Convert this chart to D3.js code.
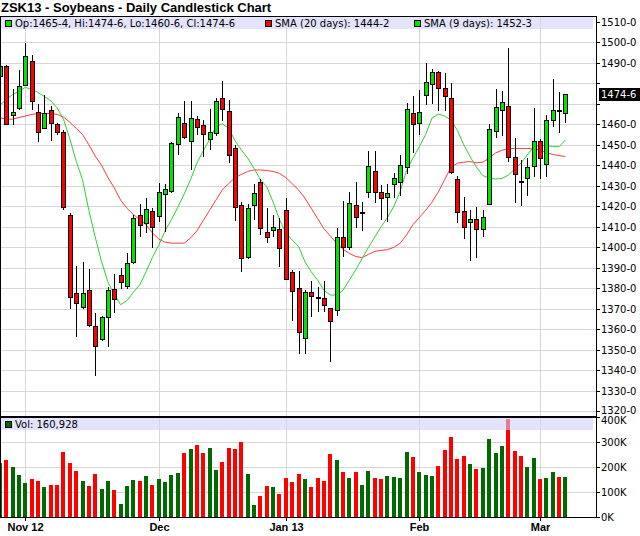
<!DOCTYPE html>
<html><head><meta charset="utf-8">
<script src="https://cdn.jsdelivr.net/npm/d3@7"></script>
<style>body{margin:0;background:#fff}svg{display:block}</style>
</head><body><svg id="c" width="640" height="536"></svg>
<script>
// ---- data (ZSK13, one entry per trading day) ----
const opens  = [1483.5,1488.4,1464.4,1467.8,1479,1490.9,1465.8,1458.3,1467,1460,1456.1,1415.6,1377.9,1371,1379,1361.4,1355.1,1365.8,1379.5,1386.3,1381,1392.8,1415.6,1412,1417.9,1415.3,1426,1427.3,1450.2,1460.8,1451.7,1462.4,1459.5,1452.7,1455.6,1472.7,1466.5,1448.5,1420.6,1395.1,1420.5,1431.7,1407.3,1408.4,1408.8,1418.2,1387.9,1380,1355.6,1378,1375.5,1375.1,1370.2,1369.4,1404.9,1400,1420.6,1417,1426.9,1437.4,1426.9,1424.4,1430.8,1432,1439,1465.3,1460.5,1474.1,1479.5,1485.4,1477.5,1472.7,1433.2,1417.7,1412.2,1413.6,1408.8,1421.2,1456.7,1467,1469.1,1444.2,1432.1,1433.7,1439.7,1452,1440.7,1462.1,1466.8,1465.5];
const highs  = [1490,1489,1477.1,1486.5,1499.8,1494,1469.9,1474.1,1468.9,1460.5,1457,1416.6,1390.9,1392.8,1389.4,1367.8,1366.5,1380.5,1387,1390.1,1397.4,1415.5,1421.3,1424,1419,1431.2,1431,1451.5,1465.4,1471.3,1471.3,1464,1462.1,1467.5,1472.7,1481.1,1471.9,1450,1421.9,1421,1430.9,1433.3,1419,1415.8,1414.1,1424,1389,1388.6,1379.2,1383.6,1380.8,1383.6,1370.5,1409.2,1422.7,1426.9,1431.7,1422.2,1447,1447,1430.4,1430.9,1436.1,1445,1470.6,1473.8,1476.6,1490.1,1487,1486.2,1484.9,1480,1435,1424.6,1418.2,1419.8,1418.2,1460.2,1477.1,1476.3,1497.1,1453.2,1442.6,1443.4,1467.8,1453,1464.5,1482.1,1475.6,1474.75];
const lows   = [1482,1459.5,1459.7,1467,1478.5,1467,1451.1,1457.5,1452,1455,1418.2,1369.7,1356.1,1370,1361.3,1337.4,1354.5,1351.2,1368.1,1379.5,1379.5,1392,1404.9,1407,1399.5,1412.5,1407.6,1426.5,1445,1453,1437.7,1455,1444.2,1447.5,1454.3,1461.8,1440.9,1413,1388.1,1394.5,1413.3,1406,1402.3,1404.9,1390.5,1384,1364.2,1347.8,1347.8,1365.8,1368.6,1368.3,1343.9,1366.6,1395.4,1398.7,1409.2,1408.1,1424,1421.5,1413.3,1412.5,1424,1425,1435.8,1446.2,1454.8,1469.4,1469.9,1466.7,1466.5,1435.8,1412,1403.9,1393.5,1394.9,1405.2,1420.8,1453.5,1454.3,1441.8,1421.5,1420.3,1425.2,1434.1,1433.2,1434.5,1458.9,1455.6,1460.75];
const closes = [1488.4,1460.3,1465.8,1478.7,1493.3,1471.2,1456.4,1465.3,1460.8,1456.1,1419.5,1375.6,1372.7,1377.5,1362.3,1351.7,1365.8,1379,1374.6,1383.1,1392.2,1414.1,1410.7,1418.5,1409.7,1427.1,1428.2,1450.7,1463.7,1453.6,1462.9,1458.8,1455.3,1456.4,1471.5,1467.3,1444.9,1419.5,1394.6,1419,1426.7,1409.2,1404.9,1409.7,1399.5,1384.4,1378.5,1358.5,1378,1376.1,1375.2,1371.7,1363.9,1405.2,1400,1421.5,1414.6,1416.8,1439.7,1426.9,1424,1426.4,1433.7,1440.2,1467.6,1460,1465.8,1480.5,1485.7,1477.5,1473.8,1436.9,1417.4,1409.7,1413.6,1408.8,1414.6,1457.6,1468.6,1470.7,1443.9,1435.6,1432,1439.3,1452,1443.4,1462.1,1466.8,1466.6,1474.75];
const volumesK = [217,229,201,168,137,153,144,121,128,128,261,217,185,145,125,173,113,145,109,53,125,149,145,165,129,153,141,168,177,256,273,289,256,277,189,220,277,273,301,173,49,85,125,121,93,157,141,173,153,122,158,143,254,230,182,158,178,130,186,158,154,166,162,158,262,242,182,170,166,206,270,322,234,246,214,194,198,314,258,286,394,266,246,202,238,154,158,178,162,160.928];
const sma20 = [1463.2,1462.5,1462.5,1463.3,1464,1464.8,1465.2,1465.3,1465.2,1464.8,1463.5,1461,1458,1455,1450,1444.5,1440,1434,1429,1423,1419,1416,1413.5,1411,1407,1404,1402.5,1402,1402,1402,1404.5,1408,1413,1418,1423,1428,1431,1434,1435.5,1437,1437.7,1437.7,1437.4,1437,1436,1434,1431,1428,1424,1419,1414,1409,1405.5,1402,1399,1397,1395.5,1395,1396.5,1398,1398.5,1398.8,1400,1402,1406,1411,1414.5,1418,1422,1427,1433,1439,1441,1441.5,1441.8,1441.2,1441.5,1443.5,1446,1447.3,1448,1448.2,1448.2,1448.2,1448,1447.5,1446.2,1445.3,1444.7,1444.25];
const sma9 = [1469.4,1472,1474.5,1476,1478,1477,1475.5,1473.5,1471.5,1468,1462.5,1453,1442,1433,1418,1405,1393,1383,1377,1372,1374,1378,1381.6,1388,1395,1401,1408,1413.5,1419.5,1426,1433,1441,1447,1452.5,1459,1460.2,1458,1452,1447.5,1443.5,1438.5,1433,1429.6,1422,1413.5,1407,1403.5,1400.5,1393,1388,1384,1379,1376.7,1376.7,1379,1384,1389,1394.5,1400,1405,1410,1414.5,1420,1427.2,1437.5,1443.5,1449,1455,1463,1465,1464,1462,1457,1450,1444.2,1439,1435,1433.7,1433.3,1433.5,1435.2,1438,1441,1445,1449.1,1449.6,1449.7,1449.1,1449,1452.4];
const monthTickIndex = [4,25,45,66,85];
const monthLabels = ["Nov 12","Dec","Jan 13","Feb","Mar"];
const priceTickValues = [1320,1330,1340,1350,1360,1370,1380,1390,1400,1410,1420,1430,1440,1450,1460,1470,1480,1490,1500,1510];
const hiddenPriceLabels = [1470,1480];
const volTickValues = [0,100,200,300,400];
const titleText = "ZSK13 - Soybeans - Daily Candlestick Chart";
const ohlcLegend = "Op:1465-4, Hi:1474-6, Lo:1460-6, Cl:1474-6";
const sma20Legend = "SMA (20 days): 1444-2";
const sma9Legend = "SMA (9 days): 1452-3";
const volLegend = "Vol: 160,928";
const lastPriceLabel = "1474-6";
const lastPrice = 1474.75;

// ---- layout ----
const L = 0, R = 596, PT = 16, PB = 416, VT = 417, VB = 517;
const GREEN = "#00e400", RED = "#ff0000", VGREEN = "#006a00", GRID = "#d6d6d6";
const F = "'DejaVu Sans', sans-serif";

const svg = d3.select("#c");
const n = closes.length;
const x = d3.scaleLinear().domain([0, n - 1]).range([-0.1, 565.4]);
const y = d3.scaleLinear().domain([1317.7, 1512.8]).range([PB, PT]);
const yv = d3.scaleLinear().domain([0, 400]).range([VB, VT]);
const px = i => Math.round(x(i));

// title
svg.append("text").attr("x", 1).attr("y", 11.5).attr("font-family", "'Liberation Sans', Arial, sans-serif")
  .attr("font-weight", "bold").attr("font-size", 13).text(titleText);

// gridlines
const g = svg.append("g").attr("shape-rendering", "crispEdges");
g.selectAll(".hg").data(priceTickValues.filter(v => v < 1510)).enter().append("line")
  .attr("x1", L).attr("x2", R).attr("y1", d => Math.round(y(d)) + 0.5).attr("y2", d => Math.round(y(d)) + 0.5)
  .attr("stroke", GRID);
g.selectAll(".vg").data(volTickValues.filter(v => v > 0 && v < 400)).enter().append("line")
  .attr("x1", L).attr("x2", R).attr("y1", d => Math.round(yv(d)) + 0.5).attr("y2", d => Math.round(yv(d)) + 0.5)
  .attr("stroke", GRID);
g.selectAll(".xg").data(monthTickIndex).enter().append("line")
  .attr("x1", d => px(d) + 0.5).attr("x2", d => px(d) + 0.5).attr("y1", PT).attr("y2", VB)
  .attr("stroke", GRID);

// SMA lines
const line = d3.line().x((d, i) => x(i)).y(d => y(d));
svg.append("path").attr("d", line(sma20)).attr("fill", "none").attr("stroke", "#ff3a3a").attr("stroke-width", 1);
svg.append("path").attr("d", line(sma9)).attr("fill", "none").attr("stroke", "#2ed12e").attr("stroke-width", 1);

// candles
const idx = d3.range(n);
const cg = svg.append("g").attr("shape-rendering", "crispEdges");
cg.selectAll(".wick").data(idx).enter().append("line")
  .attr("x1", i => px(i) + 0.5).attr("x2", i => px(i) + 0.5)
  .attr("y1", i => Math.round(y(highs[i]))).attr("y2", i => Math.round(y(lows[i])))
  .attr("stroke", "#000").attr("stroke-width", 1);
cg.selectAll(".body").data(idx).enter().append("rect")
  .attr("x", i => px(i) - 1.5).attr("width", 4)
  .attr("y", i => Math.round(y(Math.max(opens[i], closes[i]))) + 0.5)
  .attr("height", i => Math.max(1, Math.round(y(Math.min(opens[i], closes[i]))) - Math.round(y(Math.max(opens[i], closes[i])))))
  .attr("fill", i => closes[i] >= opens[i] ? GREEN : RED)
  .attr("stroke", "#000").attr("stroke-width", 1);

// volume bars
svg.append("g").attr("shape-rendering", "crispEdges").selectAll("rect").data(idx).enter().append("rect")
  .attr("x", i => px(i) - 2).attr("width", 4)
  .attr("y", i => Math.round(yv(volumesK[i]))).attr("height", i => VB - Math.round(yv(volumesK[i])))
  .attr("fill", i => (i === 0 || closes[i] >= closes[i - 1]) ? VGREEN : RED);

// legend bands
svg.append("rect").attr("x", 1).attr("y", PT + 1).attr("width", R - 4).attr("height", 12)
  .attr("fill", "#d0d0f8").attr("opacity", 0.6);
svg.append("rect").attr("x", 1).attr("y", 418).attr("width", R - 4).attr("height", 12)
  .attr("fill", "#d0d0f8").attr("opacity", 0.6);

function legendItem(xs, yb, color, text) {
  svg.append("rect").attr("x", xs + 0.5).attr("y", yb - 6.5).attr("width", 6).attr("height", 6)
    .attr("fill", color).attr("stroke", "#000").attr("shape-rendering", "crispEdges");
  svg.append("text").attr("x", xs + 10).attr("y", yb).attr("font-family", F).attr("font-size", 10)
    .attr("fill", "#000").text(text);
}
legendItem(5, 27, GREEN, ohlcLegend);
legendItem(265, 27, RED, sma20Legend);
legendItem(414, 27, GREEN, sma9Legend);
legendItem(5, 428, VGREEN, volLegend);

// frame
const fr = svg.append("g").attr("shape-rendering", "crispEdges").attr("stroke", "#000");
fr.append("line").attr("x1", 0).attr("x2", R).attr("y1", PT + 0.5).attr("y2", PT + 0.5);
fr.append("line").attr("x1", 0.5).attr("x2", 0.5).attr("y1", PT).attr("y2", VB);
fr.append("line").attr("x1", R + 0.5).attr("x2", R + 0.5).attr("y1", PT).attr("y2", VB + 1);
fr.append("line").attr("x1", 0).attr("x2", R + 1).attr("y1", PB + 0.5).attr("y2", PB + 0.5).attr("stroke-width", 2);
fr.append("line").attr("x1", 0).attr("x2", R + 1).attr("y1", VB + 0.5).attr("y2", VB + 0.5);

// right price axis
const ax = svg.append("g");
ax.selectAll(".pt").data(priceTickValues).enter().append("line").attr("shape-rendering", "crispEdges")
  .attr("x1", R).attr("x2", R + 4).attr("y1", d => Math.round(y(d)) + 0.5).attr("y2", d => Math.round(y(d)) + 0.5)
  .attr("stroke", "#000");
ax.selectAll(".pl").data(priceTickValues.filter(v => !hiddenPriceLabels.includes(v))).enter().append("text")
  .attr("x", R + 5).attr("y", d => Math.round(y(d)) + (d === 1320 ? 3 : 4)).attr("font-family", F).attr("font-size", 10)
  .text(d => d + "-0");
ax.selectAll(".vt").data(volTickValues).enter().append("line").attr("shape-rendering", "crispEdges")
  .attr("x1", R).attr("x2", R + 4).attr("y1", d => Math.round(yv(d)) + 0.5).attr("y2", d => Math.round(yv(d)) + 0.5)
  .attr("stroke", "#000");
ax.selectAll(".vl").data(volTickValues).enter().append("text")
  .attr("x", R + 5).attr("y", d => Math.round(yv(d)) + (d === 400 ? 7 : 4)).attr("font-family", F).attr("font-size", 10)
  .text(d => d + "K");

// last price box
const ly = Math.round(y(lastPrice));
svg.append("rect").attr("x", R + 3).attr("y", ly - 6).attr("width", 41).attr("height", 13).attr("fill", "#000");
svg.append("text").attr("x", R + 5).attr("y", ly + 4).attr("font-family", F).attr("font-size", 10)
  .attr("fill", "#fff").text(lastPriceLabel);

// bottom axis
const bx = svg.append("g");
bx.selectAll("line").data(monthTickIndex).enter().append("line").attr("shape-rendering", "crispEdges")
  .attr("x1", d => px(d) + 0.5).attr("x2", d => px(d) + 0.5).attr("y1", VB).attr("y2", VB + 4).attr("stroke", "#000");
bx.selectAll("text").data(monthTickIndex).enter().append("text")
  .attr("x", d => px(d) + 0.5).attr("y", 531).attr("text-anchor", "middle")
  .attr("font-family", "'Liberation Sans', Arial, sans-serif").attr("font-weight", "bold").attr("font-size", 11)
  .text((d, i) => monthLabels[i]);
</script></body></html>
